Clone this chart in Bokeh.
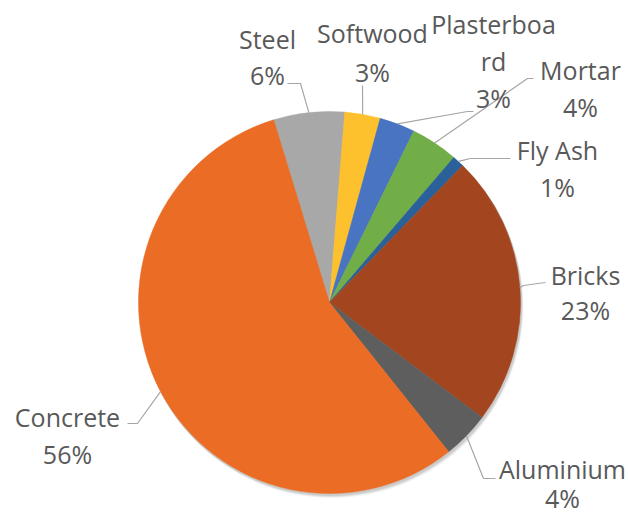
import math
from bokeh.plotting import figure
from bokeh.models import Range1d, ColumnDataSource
from bokeh.core.properties import value
from bokeh.embed import file_html
from bokeh.resources import INLINE

# ---- data (clockwise from the top) ----
materials = ["Steel", "Softwood", "Plasterboard", "Mortar", "Fly Ash", "Bricks", "Aluminium", "Concrete"]
shares = [6, 3, 3, 4, 1, 23, 4, 56]
name_lines = [["Steel"], ["Softwood"], ["Plasterboa", "rd"], ["Mortar"], ["Fly Ash"],
              ["Bricks"], ["Aluminium"], ["Concrete"]]
colors = ["#A8A8A8", "#FEC12E", "#4874C2", "#71AE48", "#2A619A", "#A3461F", "#5E5E5E", "#EA6C25"]

# ---- layout (image pixel coords, y downward) ----
W, H = 628, 518
CX, CY, R = 329, 302, 191
START_DEG = -17.0  # clockwise from 12 o'clock
# label centre x, first baseline y, line step
label_x = [267, 372, 493, 580, 557, 585, 562, 67]
label_y0 = [38, 32, 23, 69, 149, 274, 468, 416]
label_step = [36, 39, 37, 37, 37, 35, 29, 37]
# leader line elbow and end points
elbow = [(300, 83), (362, 85), (467, 111), (527, 78), (470, 158), (523, 285), (483, 478), (137, 423)]
lend = [(287, 83), (362, 85), (473, 111), (533, 78), (510, 158), (545, 282), (495, 478), (127, 423)]

FONT = "Open Sans"
TXT = "#595959"
LINE = "#A6A6A6"


def fy(y):
    return H - y


p = figure(width=W, height=H, x_range=Range1d(0, W), y_range=Range1d(0, H),
           output_backend="svg", toolbar_location=None, x_axis_type=None, y_axis_type=None,
           min_border=0)
p.grid.visible = False
p.outline_line_color = None
p.background_fill_color = "white"

# wedge angles
total = sum(shares)
th0, starts, ends, mids = START_DEG, [], [], []
for s in shares:
    th1 = th0 + 360.0 * s / total
    starts.append(math.radians(90 - th0))
    ends.append(math.radians(90 - th1))
    mids.append(math.radians((th0 + th1) / 2))
    th0 = th1

# soft shadow
for k, a in [(4, 0.05), (3, 0.07), (2, 0.09)]:
    p.circle(x=CX + k * 0.6, y=fy(CY + k), radius=R + 0.5, fill_color="#000000",
             fill_alpha=a, line_color=None)

src = ColumnDataSource(dict(start=starts, end=ends, color=colors, name=materials, share=shares))
p.wedge(x=CX, y=fy(CY), radius=R, start_angle="start", end_angle="end", direction="clock",
        fill_color="color", line_color="color", line_width=0.5, source=src)

# leader lines
xs, ys = [], []
for i, m in enumerate(mids):
    ex = CX + R * math.sin(m)
    ey = CY - R * math.cos(m)
    xs.append([ex, elbow[i][0], lend[i][0]])
    ys.append([fy(ey), fy(elbow[i][1]), fy(lend[i][1])])
p.multi_line(xs=xs, ys=ys, line_color=LINE, line_width=1.2)

# labels
tx, ty, tt = [], [], []
for i, s in enumerate(shares):
    rows = name_lines[i] + [f"{s}%"]
    for j, r in enumerate(rows):
        tx.append(label_x[i])
        ty.append(fy(label_y0[i] + j * label_step[i]))
        tt.append(r)
p.text(x=tx, y=ty, text=tt, text_font=value(FONT), text_font_size="25px",
       text_color=TXT, text_align="center", text_baseline="alphabetic")

open("out.html", "w").write(file_html(p, INLINE))
